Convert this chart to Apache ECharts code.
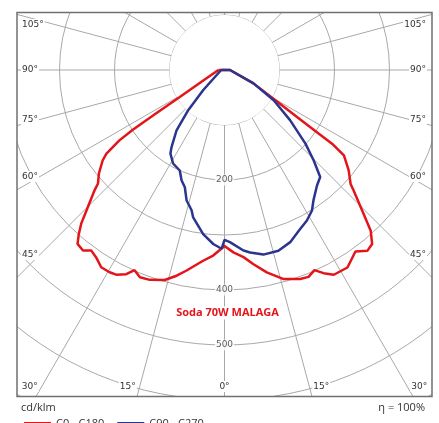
<!DOCTYPE html>
<html>
<head>
	<meta charset="utf-8"/>
	<title>Soda 70W MALAGA</title>
	<script src="https://cdn.jsdelivr.net/npm/echarts@6/dist/echarts.min.js"></script>
	<style>
		html, body { margin: 0; padding: 0; background: #fff; }
		#chart { width: 439px; height: 423px; }
	</style>
</head>
<body>
<div id="chart"></div>
<script>
// angles from nadir (0° = down), values in cd/klm
// C0 - C180, left half goes 90° -> 0°, right half 0° -> 90°
var redLeftAngles  = [90, 63.7, 58.9, 57.6, 56.9, 56.2, 54.7, 53.4, 50.5, 48.1, 47.2, 44.5, 43.0, 41.6, 40.2, 38.1, 36.4, 34.4, 32.0, 29.6, 27.9, 25.7, 24.2, 22.2, 19.6, 15.9, 13.1, 10.7, 6.4, 3.5, 1.4, 0];
var redLeftValues  = [11, 43, 95, 147, 199, 230, 263, 276, 296, 309, 322, 358, 382, 399, 414, 417, 408, 413, 423, 423, 421, 412, 399, 407, 405, 397, 384, 371, 349, 338, 327, 320];
var redRightAngles = [0, 2.8, 5.8, 8.5, 11.8, 15.8, 19.9, 22.1, 24.2, 26.0, 28.1, 31.9, 35.8, 38.3, 40.3, 42.3, 44.4, 47.0, 47.9, 51.1, 54.4, 55.6, 56.0, 57.1, 59.3, 65.2, 90];
var redRightValues = [320, 332, 342, 357, 376, 395, 404, 406, 399, 411, 422, 423, 407, 419, 415, 395, 358, 321, 309, 290, 267, 237, 207, 157, 107, 58, 10];

// C90 - C270
var blueLeftAngles  = [90, 46.7, 42.1, 38.5, 34.5, 32.9, 28.8, 24.0, 21.3, 18.7, 16.2, 13.2, 12.0, 7.4, 3.7, 0.9];
var blueLeftValues  = [6, 53, 98, 140, 170, 181, 194, 200, 215, 225, 247, 262, 274, 301, 317, 325];
var blueRightAngles = [0, 1.8, 6.0, 8.0, 11.9, 16.6, 20.9, 24.8, 28.7, 31.9, 34.3, 38.7, 41.8, 44.6, 47.7, 52.6, 58.4, 65.2, 90];
var blueRightValues = [309, 313, 330, 335, 343, 343, 335, 322, 312, 301, 287, 269, 261, 231, 199, 150, 105, 58, 10];

var radiusLabels = [200, 400, 500];
var sideAngleLabels = [105, 90, 75, 60, 45];
var bottomAngleLabels = [30, 15, 0];
var seriesNames = ['C0 - C180', 'C90 - C270'];
var chartTitle = 'Soda 70W MALAGA';
var unitText = 'cd/klm';
var etaText = 'η = 100%';

// layout
var cx = 224.5, cy = 70, pxPerUnit = 0.55, radiusMax = 800;
var box = { x: 17, y: 12.5, w: 415, h: 384 };
var RED = '#e3151a', BLUE = '#2b3590', GRID = '#a8a8a8';

// build a closed curve: left half (mirrored) then right half
function curve(la, lv, ra, rv) {
	var d = [];
	for (var i = 0; i < la.length; i++) d.push([lv[i], 360 - la[i]]);
	for (var j = 0; j < ra.length; j++) d.push([rv[j], ra[j]]);
	d.push(d[0]);
	return d;
}

function txt(s, x, y, align, font, color) {
	return {
		type: 'text', z: 5,
		style: {
			text: s, x: x, y: y,
			align: align, textAlign: align,
			verticalAlign: 'middle', textVerticalAlign: 'middle',
			fill: color || '#333',
			font: font || '9px "DejaVu Sans"',
			backgroundColor: '#fff', padding: [1, 1]
		}
	};
}

var graphics = [
	// mask everything outside the frame
	{ type: 'rect', z: 3, shape: { x: 0, y: 0, width: 439, height: box.y }, style: { fill: '#fff' } },
	{ type: 'rect', z: 3, shape: { x: 0, y: box.y + box.h, width: 439, height: 423 - box.y - box.h }, style: { fill: '#fff' } },
	{ type: 'rect', z: 3, shape: { x: 0, y: 0, width: box.x, height: 423 }, style: { fill: '#fff' } },
	{ type: 'rect', z: 3, shape: { x: box.x + box.w, y: 0, width: 439 - box.x - box.w, height: 423 }, style: { fill: '#fff' } },
	{ type: 'rect', z: 5, shape: { x: box.x, y: box.y, width: box.w, height: box.h }, style: { fill: null, stroke: '#707070', lineWidth: 1.5 } }
];

// angle labels where the rays meet the frame
sideAngleLabels.forEach(function (a) {
	var t = a * Math.PI / 180;
	var y = cy + (cx - box.x - 23) * Math.cos(t) / Math.sin(t);
	y = Math.max(y, box.y + 12);
	graphics.push(txt(a + '°', box.x + 4, y, 'left'));
	graphics.push(txt(a + '°', box.x + box.w - 5, y, 'right'));
});
bottomAngleLabels.forEach(function (a) {
	var yb = box.y + box.h - 10;
	var dx = (yb - cy) * Math.tan(a * Math.PI / 180);
	if (a === 0) {
		graphics.push(txt('0°', cx, yb, 'center'));
	} else {
		graphics.push(txt(a + '°', cx - dx - 3, yb, 'right'));
		graphics.push(txt(a + '°', cx + dx + 3, yb, 'left'));
	}
});

graphics.push(txt(chartTitle, 227.5, 313, 'center', 'bold 11px "Open Sans"', RED));
graphics.push(txt(unitText, 20, 408, 'left', '11px "Open Sans"', '#333'));
graphics.push(txt(etaText, 426, 408, 'right', '11px "Open Sans"', '#333'));

var splitColors = ['#fff'];
for (var k = 1; k < radiusMax / 100; k++) splitColors.push('rgba(0,0,0,0)');

var myChart = echarts.init(document.getElementById('chart'));
var option = {
	animation: false,
	textStyle: { fontFamily: 'Open Sans' },
	polar: { center: [cx, cy], radius: radiusMax * pxPerUnit },
	angleAxis: {
		type: 'value', min: 0, max: 360, interval: 15,
		startAngle: 270, clockwise: false, z: 0,
		axisLine: { show: false }, axisTick: { show: false }, axisLabel: { show: false },
		splitLine: { show: true, lineStyle: { color: GRID, width: 1 } }
	},
	radiusAxis: {
		type: 'value', min: 0, max: radiusMax, interval: 100, z: 1,
		axisLine: { show: false }, axisTick: { show: false }, axisLabel: { show: false },
		splitLine: { show: true, lineStyle: { color: GRID, width: 1 } },
		splitArea: { show: true, areaStyle: { color: splitColors } }
	},
	legend: {
		data: seriesNames, left: 19, top: 413, z: 6,
		icon: 'rect', itemWidth: 27, itemHeight: 3, itemGap: 13,
		textStyle: { fontSize: 11, color: '#333', fontFamily: 'Open Sans' }
	},
	graphic: graphics,
	series: [
		{
			name: seriesNames[0], type: 'line', coordinateSystem: 'polar',
			data: curve(redLeftAngles, redLeftValues, redRightAngles, redRightValues),
			showSymbol: false, symbol: 'none', color: RED,
			lineStyle: { color: RED, width: 2.5 }
		},
		{
			name: seriesNames[1], type: 'line', coordinateSystem: 'polar',
			data: curve(blueLeftAngles, blueLeftValues, blueRightAngles, blueRightValues),
			showSymbol: false, symbol: 'none', color: BLUE,
			lineStyle: { color: BLUE, width: 2.5 }
		},
		{
			type: 'scatter', coordinateSystem: 'polar',
			data: radiusLabels.map(function (v) { return [v, 0]; }),
			symbolSize: 1, itemStyle: { color: 'rgba(0,0,0,0)' },
			label: {
				show: true, position: 'inside', formatter: function (p) { return p.value[0]; },
				color: '#333', fontSize: 9, fontFamily: 'DejaVu Sans',
				backgroundColor: '#fff', padding: [1, 1]
			}
		}
	]
};
myChart.setOption(option);
</script>
</body>
</html>
